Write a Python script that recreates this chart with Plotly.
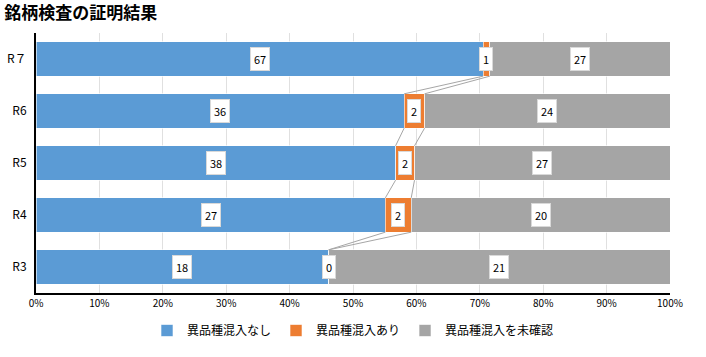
import plotly.graph_objects as go

categories = ["R3", "R4", "R5", "R6", "R７"]
none_mixed = [18, 27, 38, 36, 67]
mixed = [0, 2, 2, 2, 1]
unconfirmed = [21, 20, 27, 24, 27]
series_names = ["異品種混入なし", "異品種混入あり", "異品種混入を未確認"]
colors = ["#5B9BD5", "#ED7D31", "#A5A5A5"]
x_ticks = [i * 10 for i in range(11)]
x_ticklabels = [f"{v}%" for v in x_ticks]

FONT = "Noto Sans CJK JP"
BAR_W = 0.66
ypos = list(range(len(categories)))
totals = [a + b + c for a, b, c in zip(none_mixed, mixed, unconfirmed)]
series = [none_mixed, mixed, unconfirmed]
pcts = [[v / t * 100 for v, t in zip(s, totals)] for s in series]
cum1 = pcts[0]
cum2 = [a + b for a, b in zip(pcts[0], pcts[1])]
starts = [[0] * len(ypos), cum1, cum2]

fig = go.Figure()
for name, col, p in zip(series_names, colors, pcts):
    fig.add_trace(go.Bar(
        y=ypos, x=p, orientation="h", name=name, width=BAR_W,
        marker=dict(color=col, line=dict(color="rgba(255,255,255,0.6)", width=1)),
        hoverinfo="skip",
    ))

# series lines between adjacent bars
for i in range(len(ypos) - 1):
    lo, hi = ypos[i], ypos[i + 1]
    for cum in (cum1, cum2):
        fig.add_trace(go.Scatter(
            x=[cum[hi], cum[lo]], y=[hi - BAR_W / 2, lo + BAR_W / 2],
            mode="lines", line=dict(color="#A6A6A6", width=1),
            showlegend=False, hoverinfo="skip",
        ))

# data labels
for s, p, st in zip(series, pcts, starts):
    for i, y in enumerate(ypos):
        fig.add_annotation(
            x=st[i] + p[i] / 2, y=y, text=str(s[i]), showarrow=False,
            font=dict(family=FONT, size=11, color="#000000"),
            bgcolor="#FFFFFF", bordercolor="#D9D9D9", borderwidth=1, borderpad=3,
        )

fig.update_layout(
    width=706, height=357,
    margin=dict(l=36, r=36, t=33, b=59),
    paper_bgcolor="white", plot_bgcolor="white",
    barmode="stack", bargap=0.34,
    font=dict(family=FONT, size=11, color="#000000"),
    title=dict(text="<b>銘柄検査の証明結果</b>", x=0.006, xanchor="left", y=0.963, yanchor="middle",
               font=dict(family=FONT, size=17, color="#000000")),
    xaxis=dict(range=[0, 100], tickvals=x_ticks, ticktext=x_ticklabels, showgrid=True,
               gridcolor="#E0E0E0", gridwidth=1, zeroline=False, showline=True,
               linecolor="#000000", linewidth=2, ticks="", tickfont=dict(size=10),
               automargin=False),
    yaxis=dict(range=[-0.5, len(ypos) - 0.5], tickvals=ypos, ticktext=categories,
               showgrid=False, zeroline=False, showline=True, linecolor="#000000",
               linewidth=2, ticks="", ticklabelstandoff=5, tickfont=dict(size=12),
               automargin=False),
    legend=dict(orientation="h", x=0.5, xanchor="center", y=-0.2, yanchor="bottom",
                font=dict(size=12), traceorder="normal", itemwidth=30,
                tracegroupgap=0),
)

fig.write_html("out.html", config={"displayModeBar": False},
               post_script="document.body.style.margin='0';")
